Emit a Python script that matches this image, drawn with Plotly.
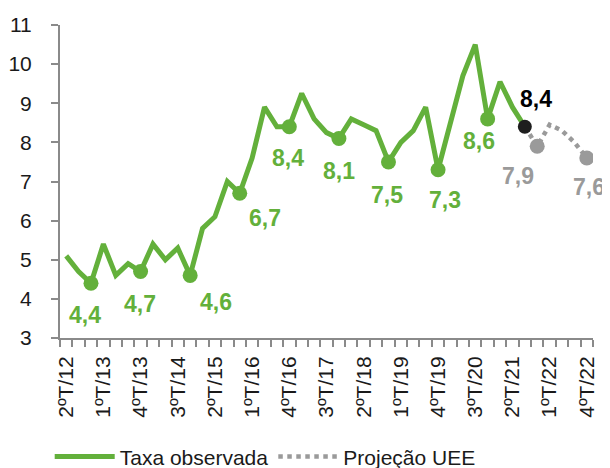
import plotly.graph_objects as go

quarters = [
    "2ºT/12", "3ºT/12", "4ºT/12",
    "1ºT/13", "2ºT/13", "3ºT/13", "4ºT/13",
    "1ºT/14", "2ºT/14", "3ºT/14", "4ºT/14",
    "1ºT/15", "2ºT/15", "3ºT/15", "4ºT/15",
    "1ºT/16", "2ºT/16", "3ºT/16", "4ºT/16",
    "1ºT/17", "2ºT/17", "3ºT/17", "4ºT/17",
    "1ºT/18", "2ºT/18", "3ºT/18", "4ºT/18",
    "1ºT/19", "2ºT/19", "3ºT/19", "4ºT/19",
    "1ºT/20", "2ºT/20", "3ºT/20", "4ºT/20",
    "1ºT/21", "2ºT/21", "3ºT/21", "4ºT/21",
    "1ºT/22", "2ºT/22", "3ºT/22", "4ºT/22",
]

tick_labels = ["2ºT/12", "1ºT/13", "4ºT/13", "3ºT/14", "2ºT/15", "1ºT/16", "4ºT/16",
               "3ºT/17", "2ºT/18", "1ºT/19", "4ºT/19", "3ºT/20", "2ºT/21", "1ºT/22", "4ºT/22"]

observed = [5.1, 4.7, 4.4, 5.4, 4.6, 4.9, 4.7, 5.4, 5.0, 5.3, 4.6, 5.8, 6.1, 7.0, 6.7,
            7.6, 8.9, 8.4, 8.4, 9.25, 8.6, 8.25, 8.1, 8.6, 8.45, 8.3, 7.5, 8.0, 8.3, 8.9,
            7.3, 8.5, 9.7, 10.5, 8.6, 9.55, 8.9, 8.4]

proj_quarters = ["3ºT/21", "4ºT/21", "1ºT/22", "2ºT/22", "3ºT/22", "4ºT/22"]
projection = [8.4, 7.9, 8.45, 8.3, 8.0, 7.6]

obs_marked = ["4ºT/12", "4ºT/13", "4ºT/14", "4ºT/15", "4ºT/16", "4ºT/17", "4ºT/18", "4ºT/19", "4ºT/20"]
last_obs = "3ºT/21"
proj_marked = ["4ºT/21", "4ºT/22"]

GREEN = "#63B03B"
GRAY = "#9A9A9A"
AXIS = "#8A8A8A"
FONT = "Liberation Sans"

obs_map = dict(zip(quarters, observed))
proj_map = dict(zip(proj_quarters, projection))

def fmt(v):
    return f"{v:.1f}".replace(".", ",")

fig = go.Figure()

fig.add_trace(go.Scatter(
    x=proj_quarters, y=projection, mode="lines", name="Projeção UEE",
    line=dict(color=GRAY, width=4.5, dash="4.5px,4.5px"),
))
fig.add_trace(go.Scatter(
    x=quarters[:len(observed)], y=observed, mode="lines", name="Taxa observada",
    line=dict(color=GREEN, width=5),
))
fig.add_trace(go.Scatter(
    x=obs_marked, y=[obs_map[q] for q in obs_marked], mode="markers", showlegend=False,
    marker=dict(color=GREEN, size=15),
))
fig.add_trace(go.Scatter(
    x=proj_marked, y=[proj_map[q] for q in proj_marked], mode="markers", showlegend=False,
    marker=dict(color=GRAY, size=15),
))
fig.add_trace(go.Scatter(
    x=[last_obs], y=[obs_map[last_obs]], mode="markers", showlegend=False,
    marker=dict(color="#1E1E1E", size=14),
))

# label offsets (pixels) for the marked points
obs_offsets = [(-6, -32), (-1, -33), (26, -27), (25, -25), (-1, -31), (0, -33), (-1, -33), (7, -30), (-9, -22)]
proj_offsets = [(-19, -30), (2, -29)]

annotations = []
for q, (dx, dy) in zip(obs_marked, obs_offsets):
    annotations.append(dict(x=q, y=obs_map[q], text=fmt(obs_map[q]), showarrow=False,
                            xshift=dx, yshift=dy, font=dict(family=FONT, size=23, color=GREEN, weight="bold")))
annotations.append(dict(x=last_obs, y=obs_map[last_obs], text=fmt(obs_map[last_obs]), showarrow=False,
                        xshift=11, yshift=28, font=dict(family=FONT, size=23, color="#000000", weight="bold")))
for q, (dx, dy) in zip(proj_marked, proj_offsets):
    annotations.append(dict(x=q, y=proj_map[q], text=fmt(proj_map[q]), showarrow=False,
                            xshift=dx, yshift=dy, font=dict(family=FONT, size=23, color=GRAY, weight="bold")))

fig.update_layout(
    width=602, height=460,
    margin=dict(l=52, r=17, t=17, b=130, autoexpand=False),
    paper_bgcolor="white", plot_bgcolor="white",
    font=dict(family=FONT, size=21, color="#1A1A1A"),
    showlegend=True,
    legend=dict(orientation="h", x=0.385, xanchor="center", y=-0.38, yanchor="middle",
                font=dict(family=FONT, size=21, color="#1A1A1A"), itemwidth=60,
                traceorder="reversed", bgcolor="rgba(0,0,0,0)"),
    annotations=annotations,
    xaxis=dict(
        type="category", categoryorder="array", categoryarray=quarters,
        range=[-0.5, len(quarters) - 0.5],
        tickmode="array", tickvals=quarters,
        ticktext=[q if q in tick_labels else "" for q in quarters],
        tickangle=-90, tickson="boundaries", ticks="outside", ticklen=7, tickwidth=1.5,
        tickcolor=AXIS, showline=True, linecolor=AXIS, linewidth=2,
        showgrid=False, zeroline=False, ticklabelstandoff=8, automargin=False,
        tickfont=dict(family=FONT, size=21, color="#1A1A1A"),
    ),
    yaxis=dict(
        range=[3, 11], dtick=1, tick0=3, ticks="outside", ticklen=7, tickwidth=1.5,
        tickcolor=AXIS, showline=True, linecolor=AXIS, linewidth=2,
        showgrid=False, zeroline=False, ticklabelstandoff=15, automargin=False,
        tickfont=dict(family=FONT, size=21, color="#1A1A1A"),
    ),
)

fig.write_html("out.html")
